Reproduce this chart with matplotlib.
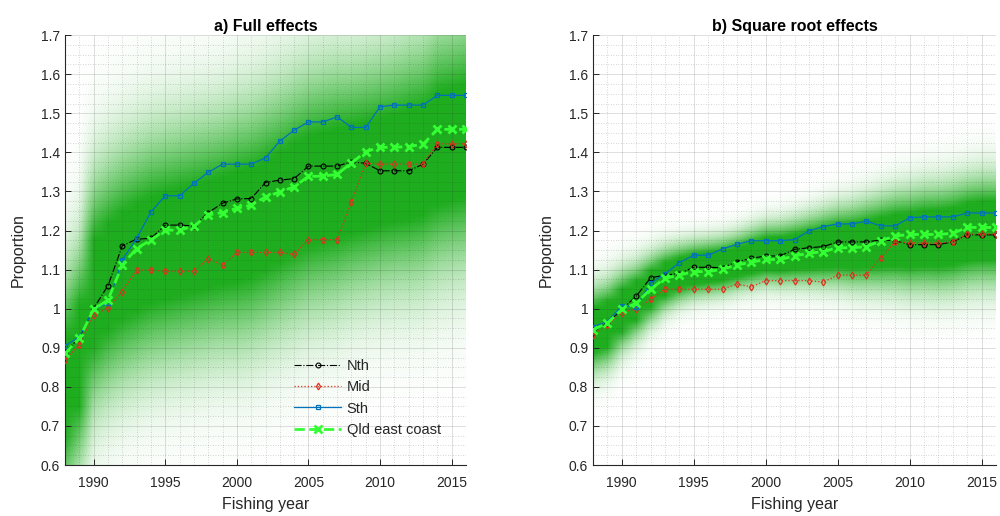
import numpy as np
import matplotlib
matplotlib.use("Agg")
import matplotlib.pyplot as plt
from matplotlib.ticker import MultipleLocator

plt.rcParams['font.family'] = ['Liberation Sans', 'DejaVu Sans']

years = list(range(1988, 2017))

# ---- a) Full effects ----
full_nth = [0.890, 0.925, 1.001, 1.059, 1.161, 1.178, 1.180, 1.214, 1.214, 1.212,
            1.246, 1.270, 1.281, 1.282, 1.323, 1.329, 1.333, 1.365, 1.365, 1.365,
            1.376, 1.372, 1.353, 1.353, 1.353, 1.370, 1.413, 1.413, 1.413]
full_mid = [0.870, 0.907, 0.985, 1.001, 1.044, 1.099, 1.099, 1.096, 1.096, 1.096,
            1.128, 1.112, 1.144, 1.144, 1.144, 1.144, 1.139, 1.177, 1.177, 1.177,
            1.274, 1.372, 1.370, 1.370, 1.370, 1.370, 1.422, 1.422, 1.422]
full_sth = [0.905, 0.928, 1.000, 1.014, 1.125, 1.180, 1.248, 1.289, 1.289, 1.321,
            1.349, 1.370, 1.370, 1.370, 1.386, 1.429, 1.457, 1.478, 1.478, 1.491,
            1.464, 1.464, 1.517, 1.521, 1.521, 1.521, 1.546, 1.546, 1.546]
full_qld = [0.886, 0.924, 0.999, 1.022, 1.112, 1.154, 1.176, 1.201, 1.201, 1.212,
            1.240, 1.246, 1.257, 1.265, 1.286, 1.299, 1.312, 1.339, 1.339, 1.344,
            1.373, 1.402, 1.413, 1.413, 1.415, 1.421, 1.459, 1.459, 1.459]
full_band_mid = [0.80, 0.88, 1.04, 1.08, 1.11, 1.13, 1.15, 1.16, 1.17, 1.18,
                 1.19, 1.20, 1.21, 1.22, 1.24, 1.26, 1.28, 1.30, 1.31, 1.32,
                 1.33, 1.34, 1.35, 1.36, 1.37, 1.38, 1.41, 1.42, 1.43]
full_band_sd = [0.18, 0.18, 0.19, 0.19, 0.19, 0.19, 0.19, 0.19, 0.19, 0.19,
                0.19, 0.19, 0.195, 0.195, 0.195, 0.195, 0.195, 0.195, 0.195, 0.195,
                0.19, 0.19, 0.19, 0.19, 0.195, 0.195, 0.2, 0.2, 0.2]

# ---- b) Square root effects ----
sqrt_nth = [0.941, 0.963, 0.998, 1.032, 1.079, 1.086, 1.090, 1.106, 1.106, 1.105,
            1.120, 1.129, 1.135, 1.135, 1.152, 1.156, 1.159, 1.171, 1.171, 1.171,
            1.176, 1.174, 1.164, 1.164, 1.164, 1.171, 1.189, 1.189, 1.189]
sqrt_mid = [0.933, 0.958, 0.990, 1.000, 1.024, 1.050, 1.050, 1.050, 1.050, 1.050,
            1.063, 1.056, 1.072, 1.072, 1.072, 1.072, 1.068, 1.086, 1.086, 1.086,
            1.131, 1.171, 1.169, 1.168, 1.168, 1.171, 1.191, 1.191, 1.191]
sqrt_sth = [0.954, 0.967, 1.007, 1.005, 1.065, 1.089, 1.118, 1.137, 1.137, 1.153,
            1.165, 1.174, 1.174, 1.174, 1.177, 1.199, 1.210, 1.217, 1.217, 1.224,
            1.212, 1.212, 1.233, 1.235, 1.235, 1.235, 1.245, 1.245, 1.245]
sqrt_qld = [0.946, 0.963, 0.998, 1.014, 1.050, 1.078, 1.086, 1.095, 1.095, 1.101,
            1.112, 1.119, 1.126, 1.126, 1.135, 1.142, 1.146, 1.156, 1.156, 1.159,
            1.174, 1.186, 1.190, 1.190, 1.190, 1.193, 1.208, 1.208, 1.208]
sqrt_band_mid = [0.945, 0.960, 0.995, 1.020, 1.050, 1.075, 1.090, 1.100, 1.105, 1.110,
                 1.120, 1.130, 1.140, 1.140, 1.145, 1.150, 1.155, 1.160, 1.160, 1.165,
                 1.170, 1.175, 1.175, 1.180, 1.180, 1.185, 1.195, 1.200, 1.200]
sqrt_band_sd = [0.075, 0.075, 0.070, 0.065, 0.060, 0.055, 0.052, 0.050, 0.050, 0.050,
                0.050, 0.052, 0.054, 0.056, 0.058, 0.062, 0.066, 0.070, 0.074, 0.078,
                0.082, 0.086, 0.090, 0.092, 0.094, 0.095, 0.096, 0.097, 0.097]

yticks = [0.6, 0.7, 0.8, 0.9, 1.0, 1.1, 1.2, 1.3, 1.4, 1.5, 1.6, 1.7]
ytick_labels = ['0.6', '0.7', '0.8', '0.9', '1', '1.1', '1.2', '1.3', '1.4', '1.5', '1.6', '1.7']
xticks = [1990, 1995, 2000, 2005, 2010, 2015]

GREEN_BAND = (0.12, 0.68, 0.12)
C_NTH = 'black'
C_MID = '#e0301e'
C_STH = '#0072bd'
C_QLD = '#33ff33'
AXC = (0.15, 0.15, 0.15)


def draw_panel(ax, title, nth, mid, sth, qld, bmid, bsd, gain, power, legend=False):
    ylo, yhi = 0.6, 1.7
    yy = np.linspace(yhi, ylo, 500)[:, None]
    c = np.asarray(bmid)[None, :]
    s = np.asarray(bsd)[None, :]
    z = (yy - c) / s
    alpha = np.clip(gain * np.exp(-0.5 * z ** 2), 0, 1) ** power
    img = np.zeros((yy.shape[0], len(years), 4))
    img[..., 0] = GREEN_BAND[0]
    img[..., 1] = GREEN_BAND[1]
    img[..., 2] = GREEN_BAND[2]
    img[..., 3] = alpha
    ax.imshow(img, extent=[years[0] - 0.5, years[-1] + 0.5, ylo, yhi],
              aspect='auto', interpolation='bilinear', zorder=0.5)

    ax.plot(years, nth, color=C_NTH, ls='-.', lw=0.8, marker='o', ms=3.5,
            mfc='none', mew=0.8, label='Nth', zorder=3)
    ax.plot(years, mid, color=C_MID, ls=':', lw=0.9, marker='d', ms=3.5,
            mfc='none', mew=0.9, label='Mid', zorder=3)
    ax.plot(years, sth, color=C_STH, ls='-', lw=0.9, marker='s', ms=2.5,
            mfc='none', mew=0.9, label='Sth', zorder=3)
    ax.plot(years, qld, color=C_QLD, ls='--', lw=2.0, marker='x', ms=6,
            mew=2.0, label='Qld east coast', zorder=3.5)

    ax.set_xlim(1988, 2016)
    ax.set_ylim(ylo, yhi)
    ax.set_xticks(xticks)
    ax.set_yticks(yticks)
    ax.set_yticklabels(ytick_labels)
    ax.xaxis.set_minor_locator(MultipleLocator(1))
    ax.yaxis.set_minor_locator(MultipleLocator(0.025))
    ax.set_axisbelow(False)
    ax.grid(True, which='major', color=AXC, alpha=0.15, lw=0.7, ls='-', zorder=1)
    ax.grid(True, which='minor', color=AXC, alpha=0.25, lw=0.6, ls=(0, (1, 2)), zorder=1)
    ax.tick_params(which='major', direction='in', length=4, width=0.7, colors=AXC,
                   labelsize=10, top=False, right=False)
    ax.tick_params(which='minor', length=0)
    ax.tick_params(axis='x', pad=8)
    for sp in ['top', 'right']:
        ax.spines[sp].set_visible(False)
    for sp in ['left', 'bottom']:
        ax.spines[sp].set_color(AXC)
        ax.spines[sp].set_linewidth(0.8)
    ax.set_title(title, fontsize=11.5, fontweight='bold', pad=3,
                 family=['Liberation Sans Narrow', 'Liberation Sans', 'DejaVu Sans'])
    ax.set_xlabel('Fishing year', fontsize=11.5, color=AXC, labelpad=5)
    ax.set_ylabel('Proportion', fontsize=11.5, color=AXC, labelpad=11)
    if legend:
        leg = ax.legend(loc='lower right', bbox_to_anchor=(0.97, 0.035), frameon=False,
                        fontsize=10.5, handlelength=3.2, handletextpad=0.4,
                        labelspacing=0.5, numpoints=1)
        for t in leg.get_texts():
            t.set_color(AXC)


fig = plt.figure(figsize=(10, 5.16), dpi=100)
ax1 = fig.add_axes([0.065, 0.0988, 0.401, 0.833])
ax2 = fig.add_axes([0.593, 0.0988, 0.403, 0.833])

draw_panel(ax1, 'a) Full effects', full_nth, full_mid, full_sth, full_qld,
           full_band_mid, full_band_sd, 1.3, 1.0, legend=True)
draw_panel(ax2, 'b) Square root effects', sqrt_nth, sqrt_mid, sqrt_sth, sqrt_qld,
           sqrt_band_mid, sqrt_band_sd, 1.35, 1.3)

fig.savefig('out.png', dpi=100)
